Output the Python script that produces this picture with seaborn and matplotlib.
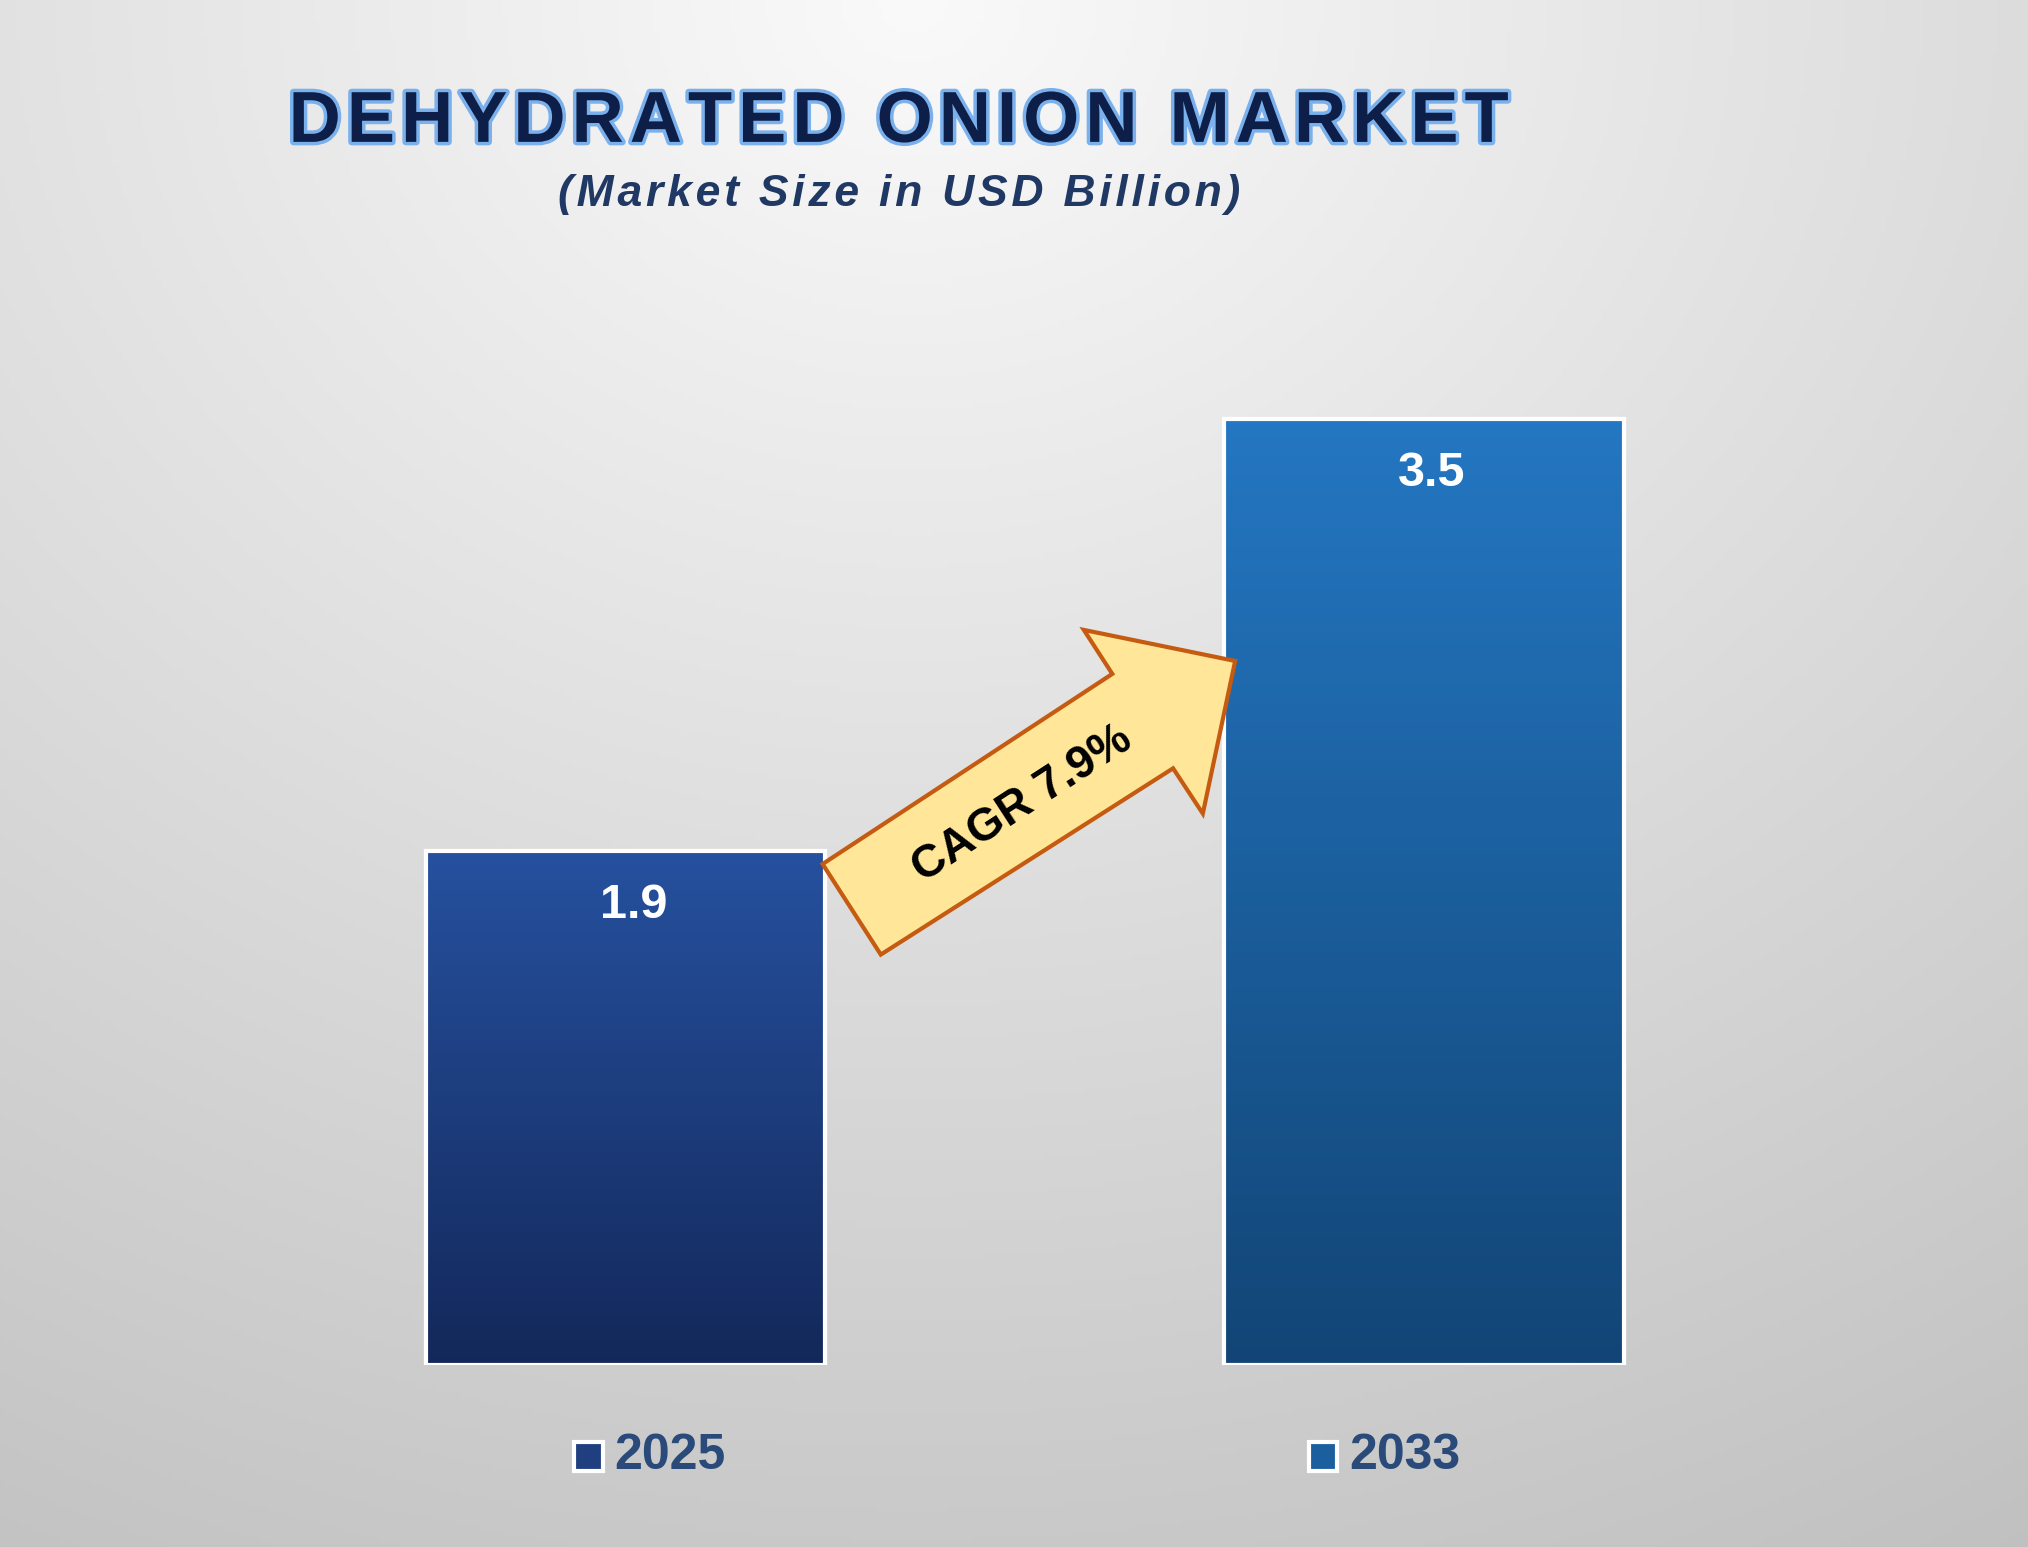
import numpy as np
import pandas as pd
import matplotlib
matplotlib.use("Agg")
import matplotlib.pyplot as plt
import matplotlib.patheffects as pe
from matplotlib.patches import Polygon, Rectangle
import seaborn as sns

years = ["2025", "2033"]
values = [1.9, 3.5]
cagr_label = "CAGR 7.9%"
title = "DEHYDRATED ONION MARKET"
subtitle = "(Market Size in USD Billion)"

sns.set_theme(style="white")
plt.rcParams['font.family'] = ['Liberation Sans', 'DejaVu Sans']

W, H = 1568, 1196
fig = plt.figure(figsize=(20.28, 15.47), dpi=100)

bg = fig.add_axes([0, 0, 1, 1])
yy, xx = np.mgrid[0:1:300j, 0:1:400j]
r = np.sqrt(((xx - 0.45) * 1.1) ** 2 + (yy * 1.0) ** 2)
g = 0.98 - 0.25 * np.clip(r, 0, 1.3) / 1.3
bg.imshow(np.dstack([g, g, g]), extent=[0, 1, 0, 1], aspect='auto', origin='upper')
bg.axis('off')

ax = fig.add_axes([0, 1 - 1055 / H, 1, 1055 / H])
ax.patch.set_alpha(0)
df = pd.DataFrame({"year": years, "value": values})
sns.barplot(data=df, x="year", y="value", ax=ax, width=0.5,
            palette=["#244c9a", "#2070b8"], edgecolor="white", linewidth=3, saturation=1)
ppu = 617.5
ax.set_xlim(-483.5 / ppu, (W - 483.5) / ppu)
ax.set_ylim(0, 1055 / (731 / 3.5))
ax.axis('off')

grads = [("#26519f", "#13285a"), ("#2477c2", "#124576")]
for p, (top, bot) in zip(ax.patches, grads):
    x0, y0 = p.get_x(), p.get_y()
    w, h = p.get_width(), p.get_height()
    c1 = np.array(matplotlib.colors.to_rgb(top)); c2 = np.array(matplotlib.colors.to_rgb(bot))
    t = np.linspace(0, 1, 200)[:, None]
    img = (c1 * (1 - t) + c2 * t)[:, None, :]
    im = ax.imshow(img, extent=[x0, x0 + w, y0, y0 + h], aspect='auto', origin='upper', zorder=2)
    im.set_clip_path(p)
    ax.add_patch(Rectangle((x0, y0), w, h, fill=False, edgecolor="white", linewidth=3, zorder=3))
    ax.text(x0 + w / 2 + 0.01, h - 0.2, f"{h:g}", ha='center', va='center', color='white',
            fontsize=35, fontweight='bold', zorder=4)

def F(x, y):
    return (x / W, 1 - y / H)

pts = [(636, 668), (860, 521), (838, 487), (955, 511), (930, 629), (907, 594), (681, 738)]
fig.add_artist(Polygon([F(*q) for q in pts], closed=True, transform=fig.transFigure,
                       facecolor="#ffe699", edgecolor="#c55a11", linewidth=3, zorder=5))
fig.text(*F(790, 622), cagr_label, rotation=33, ha='center', va='center',
         fontsize=33, fontweight='bold', color='black', zorder=6)

def spaced(s, sep):
    return sep.join(s)

glow = [pe.withStroke(linewidth=5, foreground="#7ab0ec")]
fig.text(*F(695, 95), spaced(title, "\u200a"), ha='center', va='center', fontsize=52,
         fontweight='bold', color="#0d1f48", path_effects=glow,
         family=['Liberation Sans', 'DejaVu Sans'])
fig.text(*F(695, 150), spaced(subtitle, "\u200a"), ha='center', va='center', fontsize=32,
         fontweight='bold', style='italic', color="#1f3864",
         family=['Liberation Sans', 'DejaVu Sans'])

for (sx, col, lab) in [(455, "#203f80", years[0]), (1023, "#1c5f9e", years[1])]:
    fig.add_artist(Rectangle(F(sx - 11, 1137), 22 / W, 22 / H, transform=fig.transFigure,
                             facecolor=col, edgecolor="white", linewidth=3))
    fig.text(*F(sx + 20, 1126), lab, ha='left', va='center', fontsize=36,
             fontweight='bold', color="#2a4a7a")

fig.savefig("out.png", dpi=100)
